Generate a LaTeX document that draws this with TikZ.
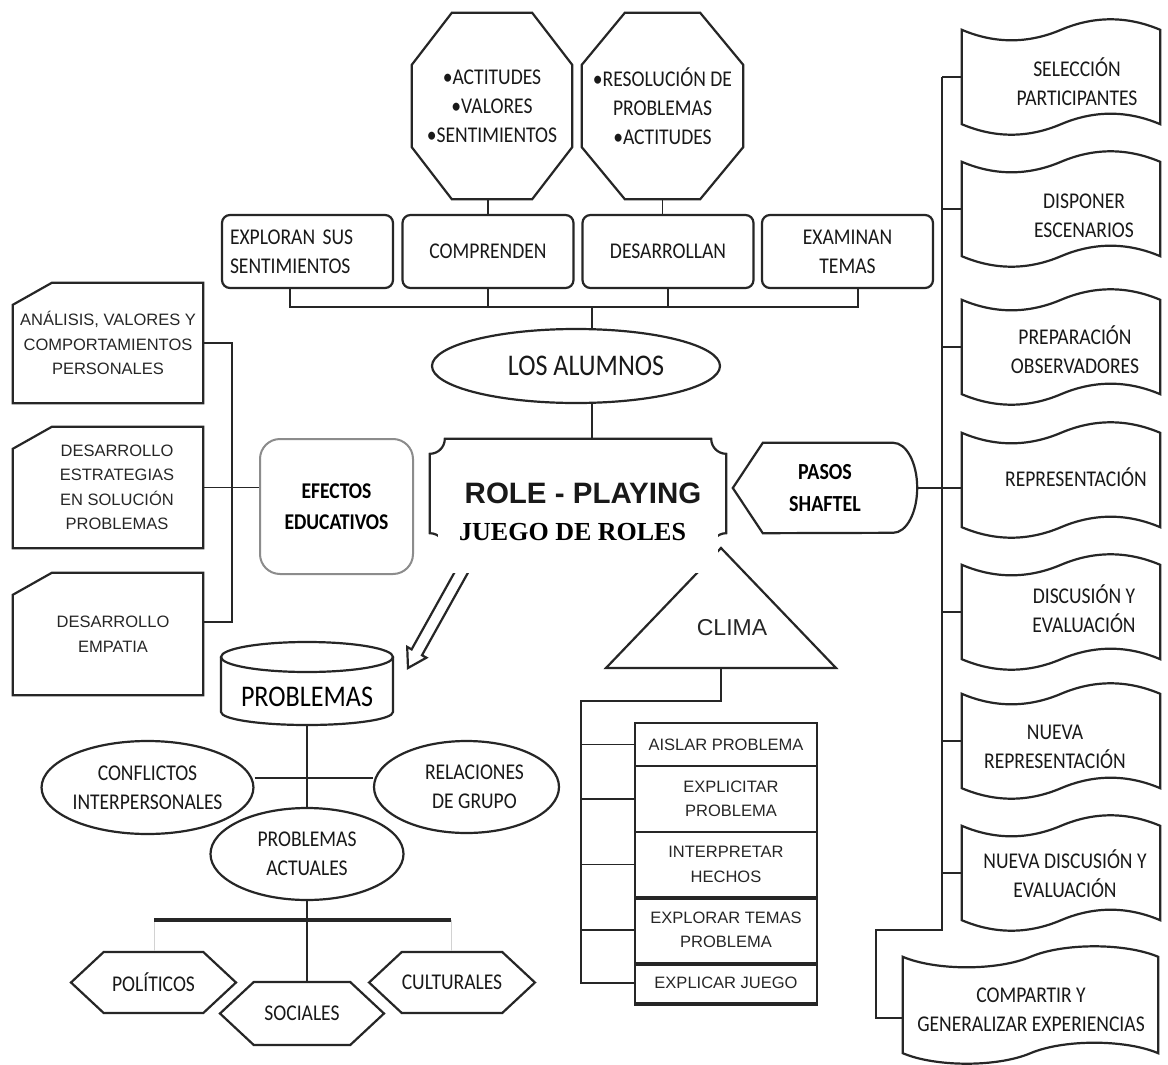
\documentclass[tikz,border=0pt]{standalone}
\usepackage{fontspec}
\setmainfont{Carlito}
\newfontfamily\fcal[FakeStretch=0.87]{Carlito}
\newfontfamily\fari{Liberation Sans}
\newfontfamily\fser{Liberation Serif}
\usetikzlibrary{shapes.geometric,shapes.symbols}
\newcommand\octo[3]{\draw[shpl] ([xshift=#2]#1.north west) -- ([xshift=-#2]#1.north east) -- ([yshift=-#3]#1.north east) -- ([yshift=#3]#1.south east) -- ([xshift=-#2]#1.south east) -- ([xshift=#2]#1.south west) -- ([yshift=#3]#1.south west) -- ([yshift=-#3]#1.north west) -- cycle;}
\newcommand\cutbox[1]{\draw[shpl] ([xshift=39pt]#1.north west) -- (#1.north east) -- (#1.south east) -- (#1.south west) -- ([yshift=-22pt]#1.north west) -- cycle;}
\newcommand\tapeout[1]{\draw[shpl] (#1.north west) .. controls +(33,14) and +(-33,14) .. (#1.north) .. controls +(33,-14) and +(-33,-14) .. (#1.north east) -- (#1.south east) .. controls +(-33,-14) and +(33,-14) .. (#1.south) .. controls +(-33,14) and +(33,14) .. (#1.south west) -- cycle;}
\begin{document}
\begin{tikzpicture}[x=1pt,y=-1pt,
 shpl/.style={draw=black!85, line width=2.2pt},
 conl/.style={draw=black!85, line width=1.9pt},
 calt/.style={font=\fcal\fontsize{22.5}{29}\selectfont, align=center, text=black!90},
 arit/.style={font=\fari\fontsize{16.5}{24.5}\selectfont, align=center, text=black!85},
 rbox/.style={shpl, rounded corners=8pt, minimum width=171pt, minimum height=73pt, inner sep=0pt, calt},
 octbox/.style={calt, minimum width=160pt, minimum height=186pt, inner sep=0pt},
 tapebox/.style={minimum width=198pt, minimum height=94pt, inner sep=0pt},
 leftbox/.style={arit, minimum width=190pt, inner sep=0pt},
 rowbox/.style={draw=black!85, line width=1.9pt, minimum width=182pt, inner sep=0pt, arit},
 ellbox/.style={shpl, ellipse, inner sep=0pt, calt},
 hexbox/.style={shpl, signal, signal to=east and west, signal pointer angle=86, minimum width=165pt, minimum height=61pt, inner sep=0pt, calt}
]
\useasboundingbox (0,0) rectangle (1168,1065);
\fill[white] (0,0) rectangle (1168,1065);

% ---------- top octagons ----------
\node[octbox] (oct1) at (492,106) {\textbullet ACTITUDES\\\textbullet VALORES\\\textbullet SENTIMIENTOS};
\octo{oct1}{40pt}{52pt}
\node[octbox, minimum width=161pt] (oct2) at (662.5,106) {\textbullet RESOLUCIÓN DE\\PROBLEMAS\\\textbullet ACTITUDES};
\octo{oct2}{43pt}{52pt}

% ---------- row of boxes ----------
\node[rbox, text width=155pt, align=left] (explo) at (307.5,251.5) {EXPLORAN SUS\\SENTIMIENTOS};
\node[rbox] (comp) at (488,251.5) {COMPRENDEN};
\node[rbox] (desa) at (668,251.5) {DESARROLLAN};
\node[rbox] (exam) at (847.5,251.5) {EXAMINAN\\TEMAS};

\draw[conl] (oct1.south -| comp.north) -- (comp.north);
\draw[conl] (oct2.south) -- (oct2.south |- desa.north);

\coordinate (bus) at (592,307);
\draw[conl] ([xshift=-17.5pt]explo.south) |- ([xshift=10.5pt]exam.south |- bus) -- ([xshift=10.5pt]exam.south);
\draw[conl] (comp.south) -- (comp.south |- bus);
\draw[conl] (desa.south) -- (desa.south |- bus);

% ---------- los alumnos ----------
\node[ellbox, minimum width=288pt, minimum height=74pt, font=\fcal\fontsize{30}{32}\selectfont] (alumnos) at (576,366) {\hspace*{20pt}LOS ALUMNOS};
\draw[conl] (bus) -- (bus |- alumnos.north);

% ---------- role playing ----------
\node[minimum width=296pt, minimum height=109pt, inner sep=0pt, font=\fari\bfseries\fontsize{29.5}{32}\selectfont, text=black!90] (role) at (578,493.5) {\hspace*{10pt}ROLE - PLAYING};
\draw[shpl] ([xshift=15pt]role.north west) -- ([xshift=-15pt]role.north east) arc[start angle=180, end angle=270, radius=15pt] -- ([yshift=15pt]role.south east) arc[start angle=90, end angle=180, radius=15pt] -- ([xshift=15pt]role.south west) arc[start angle=0, end angle=90, radius=15pt] -- ([yshift=-15pt]role.north west) arc[start angle=270, end angle=360, radius=15pt] -- cycle;
\draw[conl] (alumnos.south -| bus) -- (role.north -| bus);

% hollow arrow towards PROBLEMAS
\draw[shpl, fill=white, line join=miter] (466.1,551.6) -- (411.6,649.4) -- (407.2,646.9) -- (408,668) -- (426.4,657.7) -- (422,655.2) -- (476.5,557.4) -- cycle;

% ---------- clima triangle ----------
\draw[shpl, line join=miter] (721,548) -- (836,668) -- (606,668) -- cycle;
\node[font=\fari\fontsize{23}{26}\selectfont, text=black!85, inner sep=0pt] (clima) at (732,628) {CLIMA};
\coordinate (clb) at (721,668);

% white patch with JUEGO DE ROLES
\fill[white] (438,508) rectangle (718,573);
\node[font=\fser\bfseries\fontsize{26}{28}\selectfont, anchor=west, inner sep=0pt] (juego) at (459,532) {JUEGO DE ROLES};

% ---------- pasos shaftel ----------
\node[font=\fcal\bfseries\fontsize{23}{32}\selectfont, align=center, minimum width=184pt, minimum height=90pt, inner sep=0pt] (pasos) at (825,488) {PASOS\\SHAFTEL};
\draw[shpl, line join=miter] (pasos.west) -- ([xshift=30pt]pasos.north west) -- ([xshift=-24pt]pasos.north east) arc[start angle=90, end angle=-90, x radius=24pt, y radius=45pt] -- ([xshift=30pt]pasos.south west) -- cycle;

% ---------- shaftel steps ----------
\node[tapebox] (s1) at (1061,77) {};  \tapeout{s1}
\node[tapebox] (s2) at (1061,209) {}; \tapeout{s2}
\node[tapebox] (s3) at (1061,347) {}; \tapeout{s3}
\node[tapebox] (s4) at (1061,480) {}; \tapeout{s4}
\node[tapebox] (s5) at (1061,612) {}; \tapeout{s5}
\node[tapebox] (s6) at (1061,741) {}; \tapeout{s6}
\node[tapebox] (s7) at (1061,873) {}; \tapeout{s7}
\node[tapebox, minimum width=255pt, minimum height=96pt] (cmp) at (1030.5,1005) {}; \tapeout{cmp}
\node[calt] (s1t) at (1077,82) {SELECCIÓN\\PARTICIPANTES};
\node[calt] (s2t) at (1084,216) {DISPONER\\ESCENARIOS};
\node[calt] (s3t) at (1075,350) {PREPARACIÓN\\OBSERVADORES};
\node[calt] (s4t) at (1076,477) {REPRESENTACIÓN};
\node[calt] (s5t) at (1084,609) {DISCUSIÓN Y\\EVALUACIÓN};
\node[calt] (s6t) at (1055,747) {NUEVA\\REPRESENTACIÓN};
\node[calt] (s7t) at (1065,874) {NUEVA DISCUSIÓN Y\\EVALUACIÓN};
\node[calt] (cmpt) at (1031,1010) {COMPARTIR Y\\GENERALIZAR EXPERIENCIAS};

\coordinate (spt) at (942,930);
\coordinate (spl) at (876,930);
\draw[conl] (s1.west -| spt) -- (spt) -- (spl) |- ([yshift=-13pt]cmp.west);
\foreach \s in {s1,s2,s3,s5,s6,s7} \draw[conl] (\s.west -| spt) -- (\s.west);
\draw[conl] (pasos.east) -- (pasos.east -| s4.west);

% ---------- left side ----------
\node[leftbox, minimum height=120pt] (ana) at (108,343) {ANÁLISIS, VALORES Y\\COMPORTAMIENTOS\\PERSONALES};
\cutbox{ana}
\node[leftbox, minimum height=121pt] (des) at (108,487.5) {\hspace*{18pt}DESARROLLO\\\hspace*{18pt}ESTRATEGIAS\\\hspace*{18pt}EN SOLUCIÓN\\\hspace*{18pt}PROBLEMAS};
\cutbox{des}
\node[leftbox, minimum height=122pt] (emp) at (108,634) {\hspace*{10pt}DESARROLLO\\\hspace*{10pt}EMPATIA};
\cutbox{emp}

\node[draw=black!45, line width=2pt, rounded corners=20pt, minimum width=153pt, minimum height=135pt, inner sep=0pt, font=\fcal\bfseries\fontsize{22.5}{31}\selectfont, align=center] (efe) at (336.5,506.5) {EFECTOS\\EDUCATIVOS};

\coordinate (lsp) at (232,0);
\draw[conl] (ana.east) -| ([yshift=12pt]emp.east -| lsp) -- ([yshift=12pt]emp.east);
\draw[conl] (des.east) -- (des.east -| efe.west);

% ---------- problemas cylinder ----------
\draw[shpl] (221,657) -- (221,712) arc[start angle=180, end angle=360, x radius=86pt, y radius=13pt] -- (393,657);
\draw[shpl] (307,657) ellipse[x radius=86pt, y radius=15pt];
\node[font=\fcal\fontsize{30}{32}\selectfont, inner sep=0pt] (prob) at (307,697) {PROBLEMAS};
\coordinate (probb) at (307,725);

\node[ellbox, minimum width=191pt, minimum height=93pt] (conf) at (147.5,787.5) {CONFLICTOS\\INTERPERSONALES};
\node[ellbox, minimum width=185pt, minimum height=92pt] (rel) at (466.5,787) {\hspace*{16pt}RELACIONES\\\hspace*{16pt}DE GRUPO};
\node[ellbox, minimum width=193pt, minimum height=92pt] (pa) at (307,854) {PROBLEMAS\\ACTUALES};
\draw[conl] (probb) -- (pa.north);
\draw[conl] ([yshift=9.5pt]conf.east) -- ([yshift=9pt]rel.west);

% ---------- bottom hexagons ----------
\node[hexbox] (pol) at (153.5,982.5) {POLÍTICOS};
\node[hexbox] (cul) at (452,982.5) {CULTURALES};
\node[hexbox, minimum width=164pt, minimum height=63pt] (soc) at (302,1013.5) {SOCIALES};
\coordinate (barL) at (154,920);
\coordinate (barR) at (451,920);
\draw[gray!35, line width=1pt] (barL) -- (barL |- pol.north);
\draw[gray!35, line width=1pt] (barR) -- (barR |- cul.north);
\draw[line width=3.2pt, black!85] (barL) -- (barR);
\draw[conl] (pa.south) -- (pa.south |- soc.north);

% ---------- clima list ----------
\node[rowbox, minimum height=43pt] (r1) at (726,744.5) {AISLAR PROBLEMA};
\node[rowbox, minimum height=66pt] (r2) at (726,799) {\hspace*{10pt}EXPLICITAR\\\hspace*{10pt}PROBLEMA};
\node[rowbox, minimum height=65pt] (r3) at (726,864.5) {INTERPRETAR\\HECHOS};
\node[rowbox, minimum height=66pt] (r4) at (726,930) {EXPLORAR TEMAS\\PROBLEMA};
\node[rowbox, minimum height=40pt] (r5) at (726,983) {EXPLICAR JUEGO};
\draw[line width=3.2pt, black!85] (r3.south west) -- (r3.south east);
\draw[line width=3.2pt, black!85] (r4.south west) -- (r4.south east);
\draw[line width=3.2pt, black!85] (r5.south west) -- (r5.south east);

\coordinate (lst) at (581,701);
\draw[conl] (clb) |- (lst) -- (lst |- r5.west) -- (r5.west);
\foreach \r in {r1,r2,r3,r4} \draw[conl] (lst |- \r.west) -- (\r.west);
\end{tikzpicture}
\end{document}
